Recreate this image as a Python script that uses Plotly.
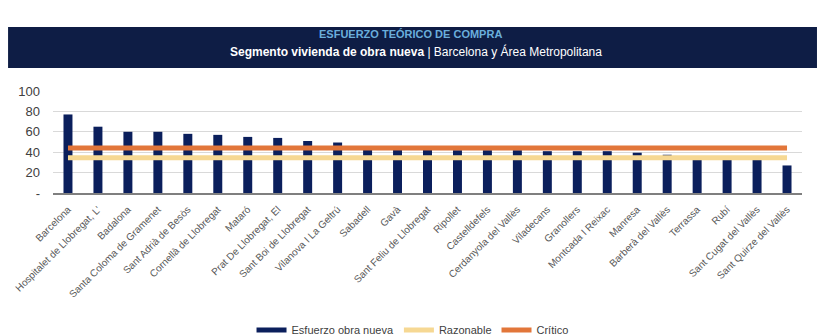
import plotly.graph_objects as go

# Municipios del segmento de obra nueva
municipios = [
    "Barcelona", "Hospitalet de Llobregat, L'", "Badalona", "Santa Coloma de Gramenet",
    "Sant Adrià de Besòs", "Cornellà de Llobregat", "Mataró", "Prat De Llobregat, El",
    "Sant Boi de Llobregat", "Vilanova I La Geltrú", "Sabadell", "Gavà",
    "Sant Feliu de Llobregat", "Ripollet", "Castelldefels", "Cerdanyola del Vallès",
    "Viladecans", "Granollers", "Montcada I Reixac", "Manresa", "Barberà del Vallès",
    "Terrassa", "Rubí", "Sant Cugat del Vallès", "Sant Quirze del Vallès",
]

# Esfuerzo teórico de compra (% de la renta)
esfuerzo = [77, 65, 60, 60, 58, 57, 55, 54, 51, 49.5, 43, 43,
            43, 42, 42, 42, 41, 41, 41, 39.5, 37.5, 33, 33, 33, 27]

# Umbrales de referencia
razonable = [34.5] * len(municipios)
critico = [44] * len(municipios)

y_ticks = [0, 20, 40, 60, 80, 100]
y_labels = ["-", "20", "40", "60", "80", "100"]

NAVY = "#0B1F5C"
YELLOW = "#F6D893"
ORANGE = "#E2763A"
HEAD_FONT = "Liberation Sans, Arial, sans-serif"

fig = go.Figure()
fig.add_trace(go.Bar(
    x=municipios, y=esfuerzo, name="Esfuerzo obra nueva",
    marker=dict(color=NAVY, line=dict(width=0)), width=0.3,
    showlegend=False, legendgroup="esfuerzo",
))
# Entrada de leyenda con símbolo alargado para las barras
fig.add_trace(go.Scatter(
    x=[None], y=[None], name="Esfuerzo obra nueva", mode="lines",
    line=dict(color=NAVY, width=5), legendgroup="esfuerzo",
))
fig.add_trace(go.Scatter(
    x=municipios, y=razonable, name="Razonable", mode="lines",
    line=dict(color=YELLOW, width=5),
))
fig.add_trace(go.Scatter(
    x=municipios, y=critico, name="Crítico", mode="lines",
    line=dict(color=ORANGE, width=5),
))

# Cabecera
fig.add_shape(type="rect", xref="paper", yref="paper",
              x0=-0.060, x1=1.020, y0=1.225, y1=1.627,
              fillcolor="#0E1D45", line=dict(width=0), layer="below")
fig.add_annotation(xref="paper", yref="paper", x=0.477, y=1.558,
                   xanchor="center", yanchor="middle",
                   text="<b>ESFUERZO TEÓRICO DE COMPRA</b>", showarrow=False,
                   font=dict(family=HEAD_FONT, size=11, color="#6AAEDC"))
fig.add_annotation(xref="paper", yref="paper", x=0.485, y=1.385,
                   xanchor="center", yanchor="middle",
                   text="<b>Segmento vivienda de obra nueva</b> | Barcelona y Área Metropolitana",
                   showarrow=False,
                   font=dict(family=HEAD_FONT, size=12, color="#FFFFFF"))

fig.update_layout(
    width=824, height=336,
    margin=dict(l=53, r=22, t=91, b=143, autoexpand=False),
    paper_bgcolor="white", plot_bgcolor="white",
    font=dict(family="Liberation Sans, Arial, sans-serif", color="#404040"),
    showlegend=True,
    legend=dict(orientation="h", x=0.48, xanchor="center",
                yref="container", y=0.018, yanchor="middle",
                font=dict(size=11, color="#404040"), itemwidth=30,
                traceorder="normal"),
    bargap=0.7,
)
fig.update_xaxes(
    tickangle=-45, tickfont=dict(size=10, color="#595959"),
    ticklabelstandoff=5,
    showline=True, linecolor="#7F7F7F", linewidth=1.5,
    ticks="", showgrid=False,
)
fig.update_yaxes(
    range=[0, 100], tickvals=y_ticks, ticktext=y_labels,
    tickfont=dict(size=13, color="#404040"), ticklabelstandoff=12,
    showgrid=True, gridcolor="#D9D9D9", gridwidth=1,
    zeroline=False, ticks="", ticklen=0,
)

fig.write_html("out.html")
